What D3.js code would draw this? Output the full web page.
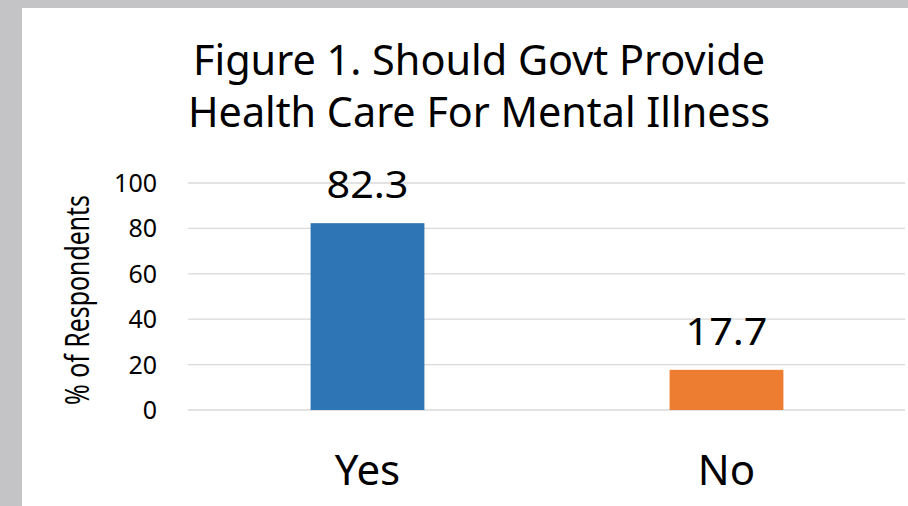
<!DOCTYPE html>
<html>
<head>
<meta charset="utf-8">
<script src="https://cdn.jsdelivr.net/npm/d3@7"></script>
<style>
  body { margin: 0; background: #c4c4c6; }
  svg { display: block; }
  text { font-family: "Noto Sans", "Open Sans", sans-serif; fill: #000; }
</style>
</head>
<body>
<div id="chart"></div>
<script>
// chart data
var categories = ["Yes", "No"];
var values = [82.3, 17.7];
var yTicks = [0, 20, 40, 60, 80, 100];
var titleLines = ["Figure 1. Should Govt Provide", "Health Care For Mental Illness"];
var barColors = ["#2e75b6", "#ed7d31"];

var width = 908,
    height = 506;

var svg = d3.select("#chart").append("svg")
    .attr("width", width)
    .attr("height", height);

// grey frame, white chart area
svg.append("rect")
    .attr("width", width).attr("height", height)
    .attr("fill", "#c4c4c6");
svg.append("rect")
    .attr("x", 22).attr("y", 8)
    .attr("width", width - 22).attr("height", height - 8)
    .attr("fill", "#fff");

var plotLeft = 188, plotRight = 906;

var x = d3.scaleBand()
    .domain(categories)
    .range([plotLeft, plotRight])
    .padding(0);

var barWidth = x.bandwidth() * 0.317;

var y = d3.scaleLinear()
    .domain([0, 100])
    .range([410, 183]);

// gridlines
svg.append("g").selectAll("line")
    .data(yTicks)
    .enter().append("line")
    .attr("x1", plotLeft).attr("x2", 905)
    .attr("y1", function(d) { return y(d); })
    .attr("y2", function(d) { return y(d); })
    .attr("stroke", "#d9d9d9")
    .attr("stroke-width", 1.3);

// y tick labels
svg.append("g").selectAll("text")
    .data(yTicks)
    .enter().append("text")
    .attr("x", 157)
    .attr("y", function(d) { return y(d) + 9; })
    .attr("text-anchor", "end")
    .style("font-size", "25px")
    .text(function(d) { return d; });

// bars
svg.append("g").selectAll("rect")
    .data(values)
    .enter().append("rect")
    .attr("x", function(d, i) { return x(categories[i]) + x.bandwidth() / 2 - barWidth / 2; })
    .attr("y", function(d) { return y(d); })
    .attr("width", barWidth)
    .attr("height", function(d) { return y(0) - y(d); })
    .attr("fill", function(d, i) { return barColors[i]; });

// value labels
svg.append("g").selectAll("text")
    .data(values)
    .enter().append("text")
    .attr("x", function(d, i) { return x(categories[i]) + x.bandwidth() / 2; })
    .attr("y", function(d) { return y(d) - 25; })
    .attr("text-anchor", "middle")
    .attr("textLength", 82)
    .attr("lengthAdjust", "spacingAndGlyphs")
    .style("font-size", "39px")
    .text(function(d) { return d.toFixed(1); });

// category labels
svg.append("g").selectAll("text")
    .data(categories)
    .enter().append("text")
    .attr("x", function(d) { return x(d) + x.bandwidth() / 2; })
    .attr("y", 485)
    .attr("text-anchor", "middle")
    .style("font-size", "42px")
    .text(function(d) { return d; });

// title
svg.append("g").selectAll("text")
    .data(titleLines)
    .enter().append("text")
    .attr("x", 479)
    .attr("y", function(d, i) { return 75 + i * 52; })
    .attr("text-anchor", "middle")
    .attr("textLength", function(d, i) { return i == 0 ? 572 : 582; })
    .attr("lengthAdjust", "spacingAndGlyphs")
    .style("font-size", "42px")
    .text(function(d) { return d; });

// y axis title
svg.append("text")
    .attr("transform", "translate(89,300) rotate(-90)")
    .attr("text-anchor", "middle")
    .attr("textLength", 210)
    .attr("lengthAdjust", "spacingAndGlyphs")
    .style("font-size", "33px")
    .text("% of Respondents");
</script>
</body>
</html>
